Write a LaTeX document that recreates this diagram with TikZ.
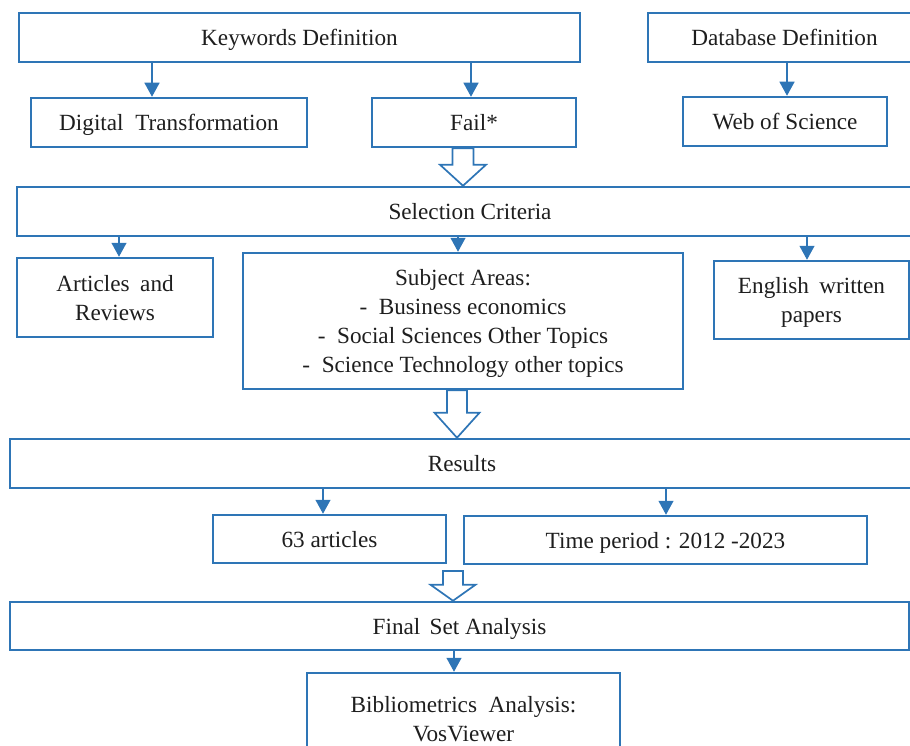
\documentclass[tikz,border=0pt]{standalone}
\usepackage{fontspec}
\setmainfont{Liberation Serif}
\usetikzlibrary{arrows.meta,calc}
\definecolor{bblue}{RGB}{46,117,182}
\definecolor{txt}{RGB}{30,30,30}
\tikzset{
  box/.style={draw=bblue, line width=2.5pt, fill=white, rectangle, inner sep=0pt,
    align=center, text=txt, text depth=0pt, font=\fontsize{23.2pt}{29pt}\selectfont},
  conn/.style={draw=bblue, line width=1.3pt, -{Triangle[width=15pt,length=14pt]}},
  hollowarr/.style={draw=bblue, line width=1.7pt, fill=white, line join=miter}
}
\newcommand{\hollowdown}[5]{% x-coordinate, from, to, shaft half width, head height
  \draw[hollowarr] let \p1=(#1 |- #2), \p2=(#1 |- #3) in
    (\x1-#4pt,\y1) -- (\x1-#4pt,\y2+#5pt) -- (\x1-#4pt-12.5pt,\y2+#5pt) -- (\x1,\y2)
    -- (\x1+#4pt+12.5pt,\y2+#5pt) -- (\x1+#4pt,\y2+#5pt) -- (\x1+#4pt,\y1) -- cycle;
}
\begin{document}
\begin{tikzpicture}[x=1pt,y=-1pt]
\useasboundingbox (0,0) rectangle (910,746);
\clip (0,0) rectangle (910,746);

\node[box, minimum width=561pt, minimum height=49pt] (kw) at (299.5,37.5) {Keywords Definition};
\node[box, minimum width=273pt, minimum height=49pt] (db) at (784.5,37.5) {Database Definition};
\node[box, minimum width=276pt, minimum height=49pt] (dt) at (169,122.5) {Digital\ \ Transformation};
\node[box, minimum width=204pt, minimum height=49pt] (fail) at (474,122.5) {Fail*};
\node[box, minimum width=204pt, minimum height=49pt] (wos) at (785,121.5) {Web of Science};
\node[box, minimum width=906pt, minimum height=49pt] (sel) at (470,211.5) {Selection Criteria};
\node[box, minimum width=196pt, minimum height=79pt] (art) at (115,297.5) {Articles\hspace{0.45em}and\\Reviews};
\node[box, minimum width=440pt, minimum height=136pt] (subj) at (463,321) {Subject Areas:\\-\ \ Business economics\\-\ \ Social Sciences Other Topics\\-\ \ Science Technology other topics};
\node[box, minimum width=195pt, minimum height=78pt] (eng) at (811.5,300) {English\hspace{0.45em}written\\papers};
\node[box, minimum width=904pt, minimum height=49pt] (res) at (462,463.5) {Results};
\node[box, minimum width=233pt, minimum height=48pt] (a63) at (329.5,539) {63 articles};
\node[box, minimum width=403pt, minimum height=48pt] (time) at (665.5,540) {Time period : 2012 -2023};
\node[box, minimum width=899pt, minimum height=48pt] (fin) at (459.5,626) {Final\hspace{0.4em}Set Analysis};
\node[box, minimum width=313pt, minimum height=92pt] (bib) at (463.5,719) {Bibliometrics\ \ Analysis:\\VosViewer};

% x positions of connectors
\coordinate (c1) at (152,0);
\coordinate (c2) at (471,0);
\coordinate (c3) at (787,0);
\coordinate (c4) at (119,0);
\coordinate (c5) at (458,0);
\coordinate (c6) at (807,0);
\coordinate (c7) at (323,0);
\coordinate (c8) at (666,0);
\coordinate (c9) at (454,0);
\coordinate (h1) at (463,0);
\coordinate (h2) at (457,0);
\coordinate (h3s) at (453,571);

\draw[conn] (c1 |- kw.south) -- (c1 |- dt.north);
\draw[conn] (c2 |- kw.south) -- (c2 |- fail.north);
\draw[conn] (c3 |- db.south) -- (c3 |- wos.north);
\draw[conn] (c4 |- sel.south) -- (c4 |- art.north);
\draw[conn] (c5 |- sel.south) -- (c5 |- subj.north);
\draw[conn] (c6 |- sel.south) -- (c6 |- eng.north);
\draw[conn] (c7 |- res.south) -- (c7 |- a63.north);
\draw[conn] (c8 |- res.south) -- (c8 |- time.north);
\draw[conn] (c9 |- fin.south) -- (c9 |- bib.north);

\hollowdown{h1}{fail.south}{sel.north}{10.5}{21}
\hollowdown{h2}{subj.south}{res.north}{10}{25}
\hollowdown{h3s}{h3s}{fin.north}{10}{16}
\end{tikzpicture}
\end{document}
